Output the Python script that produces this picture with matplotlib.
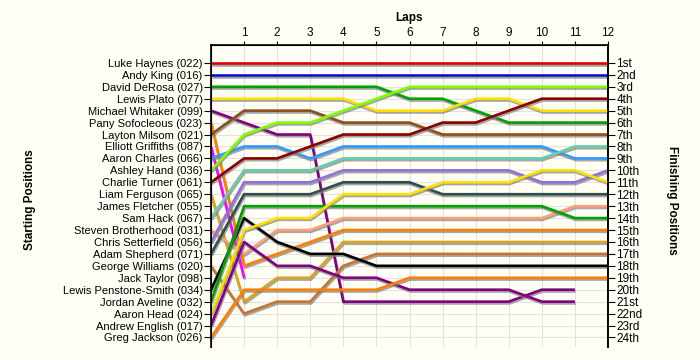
import matplotlib
matplotlib.use("Agg")
import matplotlib.pyplot as plt
import matplotlib.patheffects as pe
import numpy as np

plt.rcParams['font.family'] = ['Liberation Sans', 'DejaVu Sans']

# ---- data ----
start_names = [
    "Luke Haynes (022)", "Andy King (016)", "David DeRosa (027)", "Lewis Plato (077)",
    "Michael Whitaker (099)", "Pany Sofocleous (023)", "Layton Milsom (021)",
    "Elliott Griffiths (087)", "Aaron Charles (066)", "Ashley Hand (036)",
    "Charlie Turner (061)", "Liam Ferguson (065)", "James Fletcher (055)",
    "Sam Hack (067)", "Steven Brotherhood (031)", "Chris Setterfield (056)",
    "Adam Shepherd (071)", "George Williams (020)", "Jack Taylor (098)",
    "Lewis Penstone-Smith (034)", "Jordan Aveline (032)", "Aaron Head (024)",
    "Andrew English (017)", "Greg Jackson (026)",
]
finish_labels = ["1st", "2nd", "3rd", "4th", "5th", "6th", "7th", "8th", "9th", "10th",
                 "11th", "12th", "13th", "14th", "15th", "16th", "17th", "18th", "19th",
                 "20th", "21st", "22nd", "23rd", "24th"]
lap_labels = ["1", "2", "3", "4", "5", "6", "7", "8", "9", "10", "11", "12"]

# positions at lap 0..N for each driver (shorter list = fewer laps completed)
haynes      = [1, 1, 1, 1, 1, 1, 1, 1, 1, 1, 1, 1, 1]
king        = [2, 2, 2, 2, 2, 2, 2, 2, 2, 2, 2, 2, 2]
derosa      = [3, 3, 3, 3, 3, 3, 4, 4, 5, 6, 6, 6, 6]
plato       = [4, 4, 4, 4, 4, 5, 5, 5, 4, 4, 5, 5, 5]
whitaker    = [5, 6, 7, 7, 21, 21, 21, 21, 21, 21, 20, 20]
sofocleous  = [6, 18, 17, 16, 15, 15, 15, 15, 15, 15, 15, 15, 15]
milsom      = [7, 5, 5, 5, 6, 6, 6, 7, 7, 7, 7, 7, 7]
griffiths   = [8, 19]
charles     = [9, 8, 8, 9, 8, 8, 8, 8, 8, 8, 8, 9, 9]
hand        = [10, 7, 6, 6, 5, 4, 3, 3, 3, 3, 3, 3, 3]
turner      = [11, 9, 9, 8, 7, 7, 7, 6, 6, 5, 4, 4, 4]
ferguson    = [12, 21, 19, 19, 16, 16, 16, 16, 16, 16, 16, 16, 16]
fletcher    = []
hack        = [14, 10, 10, 10, 9, 9, 9, 9, 9, 9, 9, 8, 8]
brotherhood = [15, 17, 15, 15, 14, 14, 14, 14, 14, 14, 14, 13, 13]
setterfield = [16, 11, 11, 11, 10, 10, 10, 10, 10, 10, 11, 11, 10]
shepherd    = [17, 12, 12, 12, 11, 11, 11, 12, 12, 12, 12, 12, 12]
williams    = [18, 22, 21, 21, 18, 17, 17, 17, 17, 17, 17, 17, 17]
taylor      = []
penstone    = [20, 14, 16, 17, 17, 18, 18, 18, 18, 18, 18, 18, 18]
aveline     = [21, 13, 13, 13, 13, 13, 13, 13, 13, 13, 13, 14, 14]
head        = [22, 15, 14, 14, 12, 12, 12, 11, 11, 11, 10, 10, 11]
english     = [23, 16, 18, 18, 19, 19, 20, 20, 20, 20, 21, 21]
jackson     = [24, 20, 20, 20, 20, 20, 19, 19, 19, 19, 19, 19, 19]

series = [haynes, king, derosa, plato, whitaker, sofocleous, milsom, griffiths,
          charles, hand, turner, ferguson, fletcher, hack, brotherhood, setterfield,
          shepherd, williams, taylor, penstone, aveline, head, english, jackson]
colors = ["#E00000", "#1010D0", "#00A000", "#FFE000", "#800080", "#FF8000", "#8B4F1A",
          "#FF00FF", "#3399FF", "#80FF00", "#8B0000", "#DAA520", None, "#66CDAA",
          "#FFA07A", "#9370DB", "#2F4F4F", "#C87533", None, "#000000", "#00A000",
          "#FFE000", "#800080", "#FF8000"]

bg = "#FFFFF5"
fig = plt.figure(figsize=(7, 3.6), dpi=100, facecolor=bg)
ax = fig.add_axes([211/700, 1-347/360, (608-211)/700, (347-45)/360])
ax.set_facecolor(bg)

for pos, col in zip(series, colors):
    if not pos:
        continue
    laps = np.arange(len(pos))
    ax.plot(laps, pos, color=col, lw=1.9, solid_capstyle='butt',
            path_effects=[pe.SimpleLineShadow(offset=(0.6, -1.3), shadow_color='#808080', alpha=0.7),
                          pe.Normal()], zorder=3)

n = len(start_names)
ax.set_xlim(0, 12)
ax.set_ylim(n + 0.8, -0.5)
ax.set_xticks(np.arange(1, 13))
ax.set_xticklabels(lap_labels, fontsize=8.5)
ax.xaxis.tick_top()
ax.tick_params(axis='x', length=3, pad=1, direction='out')
ax.set_yticks(np.arange(1, n + 1))
ax.set_yticklabels(start_names, fontsize=8)
ax.tick_params(axis='y', length=5, pad=1, direction='out')
ax.grid(True, color='#E2E2E2', lw=0.8, zorder=0)
ax.set_axisbelow(True)
ax.spines['bottom'].set_visible(False)
for s in ['left', 'top', 'right']:
    ax.spines[s].set_linewidth(1.2)

ax2 = ax.twinx()
ax2.set_ylim(ax.get_ylim())
ax2.set_yticks(np.arange(1, n + 1))
ax2.set_yticklabels(finish_labels, fontsize=8.5)
ax2.tick_params(axis='y', length=5, pad=1, direction='out')
ax2.spines['bottom'].set_visible(False)
ax2.spines['right'].set_linewidth(1.2)

fig.text(409/700, 1-18/360, "Laps", ha='center', va='center', fontsize=8.5, fontweight='bold')
fig.text(30/700, 1-200/360, "Starting Positions", ha='center', va='center', rotation=90,
         fontsize=8.5, fontweight='bold')
fig.text(672/700, 1-200/360, "Finishing Positions", ha='center', va='center', rotation=270,
         fontsize=8.5, fontweight='bold')

fig.savefig("out.png", dpi=100, facecolor=bg)
